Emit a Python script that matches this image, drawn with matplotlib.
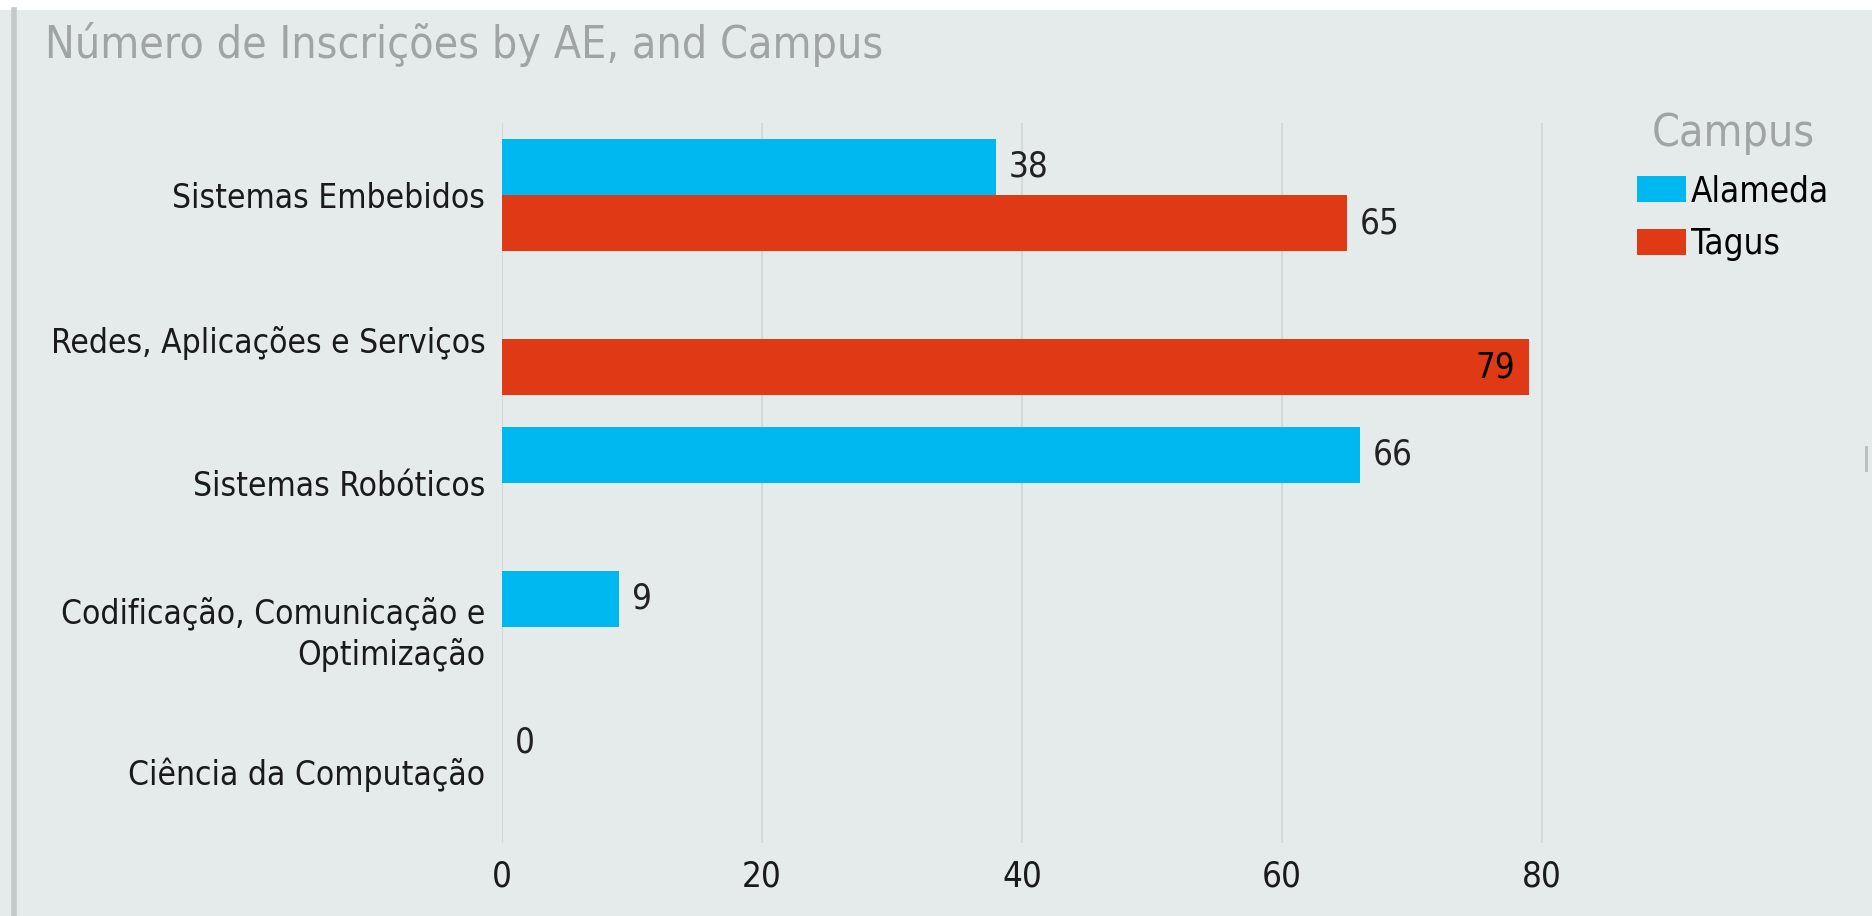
import numpy as np
import matplotlib

matplotlib.use("Agg")
import matplotlib.pyplot as plt
from matplotlib.patches import Patch
from matplotlib.lines import Line2D

plt.rcParams["font.family"] = ["DejaVu Sans"]
plt.rcParams["font.stretch"] = "condensed"

# data, top to bottom
categories = [
    "Sistemas Embebidos",
    "Redes, Aplicações e Serviços",
    "Sistemas Robóticos",
    "Codificação, Comunicação e\nOptimização",
    "Ciência da Computação",
]
alameda = [38, None, 66, 9, 0]
tagus = [65, 79, None, None, None]
series_names = ["Alameda", "Tagus"]
x_ticks = [0, 20, 40, 60, 80]

BG = "#e5ebeb"
COLORS = {"Alameda": "#00b8f0", "Tagus": "#df3915"}

fig = plt.figure(figsize=(18.72, 9.16), dpi=100, facecolor="white")

# panel background with white strip at top and grey left edge
fig.patches.append(plt.Rectangle((0, 0), 1, 1 - 10 / 916, transform=fig.transFigure,
                                 facecolor=BG, edgecolor="none", zorder=-10))
fig.lines.append(Line2D([13.5 / 1872, 13.5 / 1872], [0, 1 - 10 / 916], transform=fig.transFigure,
                        color="#c4c8c8", linewidth=4, zorder=-5))
fig.lines.append(Line2D([1866 / 1872, 1866 / 1872], [1 - 470 / 916, 1 - 447 / 916],
                        transform=fig.transFigure, color="#b8bcbc", linewidth=2, zorder=-5))

ax = fig.add_axes([502 / 1872, 1 - 843 / 916, 1300 / 1872, 720 / 916])
ax.set_facecolor("none")

y = np.arange(len(categories))
bar_h = 0.39
for name, values, offset in [("Alameda", alameda, -bar_h / 2), ("Tagus", tagus, bar_h / 2)]:
    for yi, v in zip(y, values):
        if v is None:
            continue
        ax.barh(yi + offset, v, height=bar_h, color=COLORS[name], zorder=2)
        if v >= 75:
            ax.annotate(str(v), (v, yi + offset), xytext=(-10, 0), textcoords="offset points",
                        ha="right", va="center", fontsize=25, color="black", zorder=3)
        else:
            ax.annotate(str(v), (v, yi + offset), xytext=(9, 0), textcoords="offset points",
                        ha="left", va="center", fontsize=25, color="#222222", zorder=3)

ax.set_ylim(len(categories) - 0.5, -0.5)
ax.set_xlim(0, 100)
ax.set_yticks(y, categories, fontsize=24, color="#1a1a1a", linespacing=1.3)
ax.set_xticks(x_ticks, [str(t) for t in x_ticks], fontsize=25, color="#1a1a1a")
ax.tick_params(axis="both", length=0)
ax.tick_params(axis="y", pad=12)
ax.tick_params(axis="x", pad=12)
ax.grid(axis="x", color="#d3dada", linewidth=1.5, zorder=1)
ax.set_axisbelow(True)
for spine in ax.spines.values():
    spine.set_visible(False)

fig.text(45 / 1872, 1 - 58 / 916, "Número de Inscrições by AE, and Campus",
         fontsize=32, color="#a0a4a4", ha="left", va="baseline")

handles = [Patch(facecolor=COLORS[n], edgecolor="none") for n in series_names]
leg = fig.legend(handles, series_names, title="Campus", loc="upper left",
                 bbox_to_anchor=(1637 / 1872, 1 - 112 / 916), frameon=False,
                 fontsize=25, title_fontsize=32, handlelength=1.4, handleheight=0.8,
                 handletextpad=0.15, labelspacing=0.55, borderaxespad=0, borderpad=0)
leg.get_title().set_color("#a0a4a4")

fig.savefig("out.png", dpi=100, facecolor="white")
